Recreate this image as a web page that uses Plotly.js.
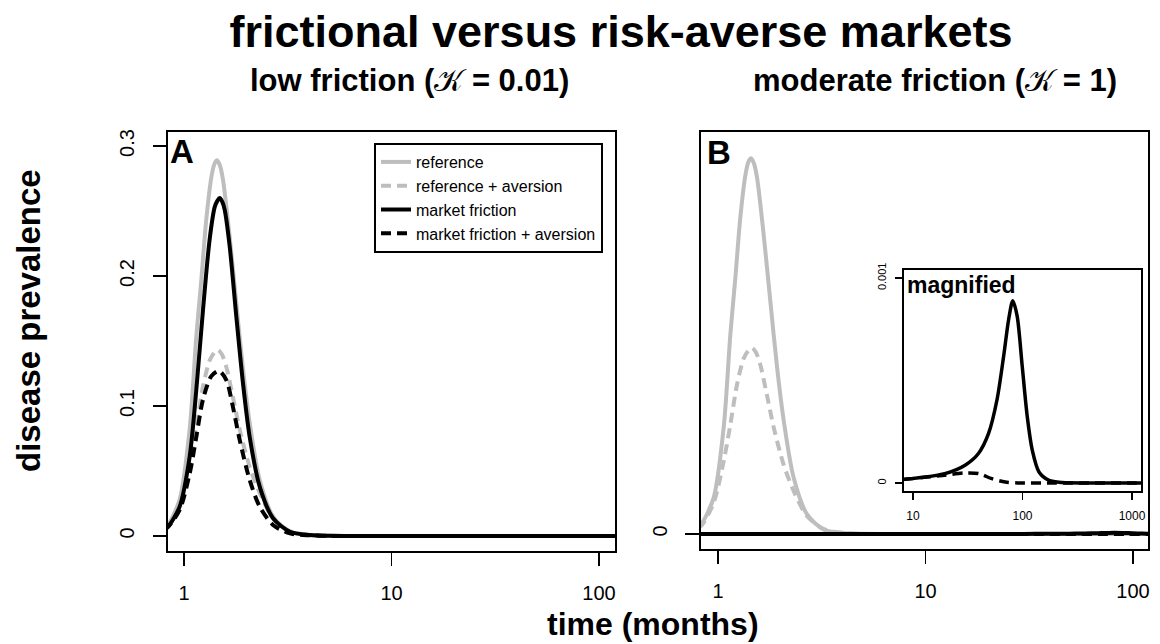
<!DOCTYPE html>
<html>
<head>
<meta charset="utf-8">
<script src="https://cdn.plot.ly/plotly-3.0.1.min.js"></script>
<style>
  html, body { margin: 0; padding: 0; background: #ffffff; }
  #chart { width: 1160px; height: 644px; }
</style>
</head>
<body>
<div id="chart"></div>
<script>
// ---------- data ----------
// reference (no friction, no aversion) – same curve in both panels
const refTime = [0.8, 0.837, 0.953, 1.065, 1.146, 1.212, 1.28, 1.355, 1.40, 1.443, 1.49, 1.542, 1.66, 1.787, 1.926, 2.074, 2.317, 2.687, 3.24, 4.04, 5.05, 8, 20, 50, 125];
const refPrev = [0.006, 0.0085, 0.028, 0.082, 0.153, 0.197, 0.243, 0.276, 0.286, 0.289, 0.285, 0.274, 0.23, 0.179, 0.128, 0.087, 0.043, 0.015, 0.0033, 0.0008, 0.0001, 0, 0, 0, 0];

// reference + aversion
const refAvTime = [0.8, 0.837, 0.953, 1.065, 1.146, 1.235, 1.329, 1.40, 1.459, 1.52, 1.6, 1.72, 1.855, 2.074, 2.317, 2.687, 3.24, 4.04, 5.05, 8, 125];
const refAvPrev = [0.005, 0.007, 0.024, 0.056, 0.084, 0.115, 0.135, 0.141, 0.143, 0.14, 0.13, 0.107, 0.082, 0.053, 0.033, 0.0136, 0.0038, 0.0008, 0.0001, 0, 0];

// market friction, K = 0.01 (panel A)
const fricATime = [0.8, 0.837, 0.953, 1.065, 1.146, 1.235, 1.329, 1.406, 1.45, 1.486, 1.53, 1.571, 1.66, 1.787, 1.926, 2.074, 2.317, 2.687, 3.24, 4.04, 5.05, 8, 125];
const fricAPrev = [0.005, 0.007, 0.0226, 0.061, 0.112, 0.174, 0.228, 0.253, 0.258, 0.26, 0.257, 0.251, 0.223, 0.169, 0.117, 0.076, 0.038, 0.0136, 0.0033, 0.0008, 0.0001, 0, 0];

// market friction + aversion, K = 0.01 (panel A)
const fricAvATime = [0.8, 0.837, 0.953, 1.065, 1.146, 1.235, 1.355, 1.475, 1.6, 1.72, 1.855, 2.074, 2.317, 2.687, 3.24, 4.04, 5.05, 8, 125];
const fricAvAPrev = [0.005, 0.007, 0.02, 0.048, 0.076, 0.105, 0.123, 0.127, 0.12, 0.0995, 0.074, 0.043, 0.0226, 0.0085, 0.002, 0.0005, 0.0001, 0, 0];

// market friction, K = 1 (panel B and its magnified inset)
const fricBTime = [0.8, 2, 5, 8.4, 19.5, 29.9, 39.6, 49, 58.5, 67.3, 74.8, 81.5, 89.3, 99.4, 110.5, 122.8, 141.4, 174.7, 231.6, 400, 1300];
const fricBPrev = [0.000002, 0.000005, 0.00001, 0.000018, 0.000046, 0.000087, 0.000144, 0.000242, 0.000406, 0.000619, 0.000799, 0.000889, 0.000815, 0.00057, 0.000324, 0.00016, 0.000054, 0.000013, 0.000002, 0, 0];

// market friction + aversion, K = 1 (panel B and its magnified inset)
const fricAvBTime = [0.8, 2, 5, 8.4, 19.5, 29.9, 39.6, 52.6, 69.6, 92.4, 150, 1300];
const fricAvBPrev = [0.000002, 0.000005, 0.00001, 0.000018, 0.000038, 0.000049, 0.000046, 0.000021, 0.000005, 0, 0, 0];

// series labels and tick labels
const seriesNames = ['reference', 'reference + aversion', 'market friction', 'market friction + aversion'];
const xTickVals = [1, 10, 100];
const xTickText = ['1', '10', '100'];
const yTickValsA = [0, 0.1, 0.2, 0.3];
const yTickTextA = ['0', '0.1', '0.2', '0.3'];
const yTickValsB = [0];
const yTickTextB = ['0'];
const insetXTickVals = [10, 100, 1000];
const insetXTickText = ['10', '100', '1000'];
const insetYTickVals = [0, 0.001];
const insetYTickText = ['0', '0.001'];

// ---------- styling ----------
const FONT = 'Liberation Sans, Arial, Helvetica, sans-serif';
const GRAY = '#BEBEBE';
const BLACK = '#000000';
const LW = 4;
const DASH = '10px,6px';

function line(x, y, color, dash, name, xa, ya, show, width) {
  return {
    type: 'scatter', mode: 'lines', x: x, y: y, name: name,
    xaxis: xa, yaxis: ya, showlegend: show, hoverinfo: 'skip',
    line: { color: color, width: width || LW, dash: dash, shape: 'spline', smoothing: 0.8 }
  };
}

const traces = [
  // panel A
  line(refTime, refPrev, GRAY, 'solid', seriesNames[0], 'x', 'y', true),
  line(refAvTime, refAvPrev, GRAY, DASH, seriesNames[1], 'x', 'y', true),
  line(fricATime, fricAPrev, BLACK, 'solid', seriesNames[2], 'x', 'y', true),
  line(fricAvATime, fricAvAPrev, BLACK, DASH, seriesNames[3], 'x', 'y', true),
  // panel B
  line(refTime, refPrev, GRAY, 'solid', seriesNames[0], 'x2', 'y2', false),
  line(refAvTime, refAvPrev, GRAY, DASH, seriesNames[1], 'x2', 'y2', false),
  line(fricBTime, fricBPrev, BLACK, 'solid', seriesNames[2], 'x2', 'y2', false),
  line(fricAvBTime, fricAvBPrev, BLACK, DASH, seriesNames[3], 'x2', 'y2', false),
  // inset
  line(fricBTime, fricBPrev, BLACK, 'solid', seriesNames[2], 'x3', 'y3', false, 3.5),
  line(fricAvBTime, fricAvBPrev, BLACK, DASH, seriesNames[3], 'x3', 'y3', false, 3.5)
];

const W = 1160, H = 644;
const px = v => v / W;
const py = v => (H - v) / H;

function xAxis(domain, range, vals, text, anchor, size, len, standoff) {
  return {
    type: 'log', domain: domain, range: range, anchor: anchor,
    tickmode: 'array', tickvals: vals, ticktext: text,
    ticks: 'outside', ticklen: len, tickwidth: 1.5, tickcolor: BLACK,
    ticklabelstandoff: standoff,
    showline: true, mirror: true, linecolor: BLACK, linewidth: 2,
    showgrid: false, zeroline: false,
    tickfont: { family: FONT, size: size, color: BLACK }
  };
}
function yAxis(domain, range, vals, text, anchor, size, len, standoff) {
  return {
    type: 'linear', domain: domain, range: range, anchor: anchor,
    tickmode: 'array', tickvals: vals, ticktext: text, tickangle: -90,
    ticks: 'outside', ticklen: len, tickwidth: 1.5, tickcolor: BLACK,
    ticklabelstandoff: standoff,
    showline: true, mirror: true, linecolor: BLACK, linewidth: 2,
    showgrid: false, zeroline: false,
    tickfont: { family: FONT, size: size, color: BLACK }
  };
}

const layout = {
  width: W, height: H,
  margin: { l: 0, r: 0, t: 0, b: 0 },
  paper_bgcolor: '#ffffff', plot_bgcolor: '#ffffff',
  font: { family: FONT, color: BLACK },
  title: {
    text: '<b>frictional versus risk-averse markets</b>',
    font: { family: FONT, size: 45, color: BLACK },
    x: px(621), xanchor: 'center', y: py(31), yanchor: 'middle', xref: 'paper', yref: 'container'
  },
  xaxis: xAxis([px(168), px(615)], [-0.077, 2.077], xTickVals, xTickText, 'y', 20, 13, 10),
  yaxis: yAxis([py(551), py(132)], [-0.01154, 0.3108], yTickValsA, yTickTextA, 'x', 20, 13, 11),
  xaxis2: xAxis([px(701), px(1148)], [-0.082, 2.072], xTickVals, xTickText, 'y2', 20, 13, 10),
  yaxis2: yAxis([py(549), py(132)], [-0.01154, 0.3092], yTickValsB, yTickTextB, 'x2', 20, 14, 10),
  xaxis3: xAxis([px(904), px(1141)], [0.918, 3.082], insetXTickVals, insetXTickText, 'y3', 12, 7, 6),
  yaxis3: yAxis([py(491), py(270)], [-0.000039, 0.001039], insetYTickVals, insetYTickText, 'x3', 11, 7, 5),
  showlegend: true,
  legend: {
    x: px(603), xanchor: 'right', y: py(143), yanchor: 'top',
    xref: 'paper', yref: 'paper',
    bgcolor: '#ffffff', bordercolor: BLACK, borderwidth: 2,
    font: { family: FONT, size: 16, color: BLACK },
    tracegroupgap: 0
  },
  annotations: [
    { text: '<b>low friction (</b>𝒦<b> = 0.01)</b>', x: px(409), y: py(81), xref: 'paper', yref: 'paper',
      xanchor: 'center', yanchor: 'middle', showarrow: false, font: { family: FONT, size: 31, color: BLACK } },
    { text: '<b>moderate friction (</b>𝒦<b> = 1)</b>', x: px(935), y: py(81), xref: 'paper', yref: 'paper',
      xanchor: 'center', yanchor: 'middle', showarrow: false, font: { family: FONT, size: 31, color: BLACK } },
    { text: '<b>disease prevalence</b>', x: px(28), y: py(321), xref: 'paper', yref: 'paper', textangle: -90,
      xanchor: 'center', yanchor: 'middle', showarrow: false, font: { family: FONT, size: 33, color: BLACK } },
    { text: '<b>time (months)</b>', x: px(653), y: py(624), xref: 'paper', yref: 'paper',
      xanchor: 'center', yanchor: 'middle', showarrow: false, font: { family: FONT, size: 32, color: BLACK } },
    { text: '<b>A</b>', x: px(168), y: py(151), xref: 'paper', yref: 'paper',
      xanchor: 'left', yanchor: 'middle', showarrow: false, font: { family: FONT, size: 33, color: BLACK } },
    { text: '<b>B</b>', x: px(705), y: py(153), xref: 'paper', yref: 'paper',
      xanchor: 'left', yanchor: 'middle', showarrow: false, font: { family: FONT, size: 33, color: BLACK } },
    { text: '<b>magnified</b>', x: px(905), y: py(285), xref: 'paper', yref: 'paper',
      xanchor: 'left', yanchor: 'middle', showarrow: false, font: { family: FONT, size: 23, color: BLACK } }
  ]
};

Plotly.newPlot('chart', traces, layout, { displayModeBar: false, staticPlot: true });
</script>
</body>
</html>
